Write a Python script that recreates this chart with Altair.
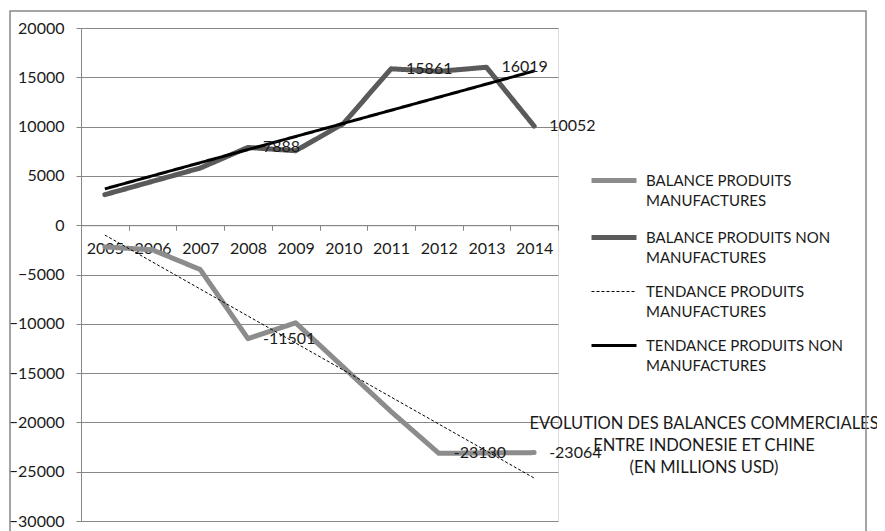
import altair as alt
import pandas as pd

# ---- data ----
years = ["2005", "2006", "2007", "2008", "2009", "2010", "2011", "2012", "2013", "2014"]
balance_manuf = [-2200, -2500, -4500, -11501, -9900, -14400, -18900, -23130, -23100, -23064]
balance_non_manuf = [3100, 4450, 5800, 7888, 7550, 10300, 15861, 15600, 16019, 10052]
labels_manuf = ["", "", "", "-11501", "", "", "", "-23130", "", "-23064"]
labels_non_manuf = ["", "", "", "7888", "", "", "15861", "", "16019", "10052"]

S1 = "BALANCE PRODUITS MANUFACTURES"
S2 = "BALANCE PRODUITS NON MANUFACTURES"
T1 = "TENDANCE PRODUITS MANUFACTURES"
T2 = "TENDANCE PRODUITS NON MANUFACTURES"
series_order = [S1, S2, T1, T2]
series_colors = ["#8c8c8c", "#5a5a5a", "#000000", "#000000"]
series_dashes = [[1, 0], [1, 0], [3, 2], [1, 0]]
y_ticks = [-30000, -25000, -20000, -15000, -10000, -5000, 0, 5000, 10000, 15000, 20000]
title_text = "EVOLUTION DES BALANCES COMMERCIALES\nENTRE INDONESIE ET CHINE\n(EN MILLIONS USD)"

FONT = "Lato"

df = pd.DataFrame({
    "year": years * 2,
    "yr": [int(y) for y in years] * 2,
    "value": balance_manuf + balance_non_manuf,
    "series": [S1] * len(years) + [S2] * len(years),
    "label": labels_manuf + labels_non_manuf,
    "w": [5] * (2 * len(years)),
})

width_expr = (
    f"datum.value == '{T1}' ? 1 : datum.value == '{T2}' ? 3 : 5"
)

legend = alt.Legend(
    title=None,
    orient="none",
    legendX=525.5,
    legendY=145,
    symbolType="stroke",
    symbolSize=2025,
    symbolStrokeWidth={"expr": width_expr},
    labelExpr="[slice(datum.label, 0, -13), 'MANUFACTURES']",
    labelFont=FONT,
    labelFontSize=15,
    labelColor="#1a1a1a",
    labelBaseline="middle",
    labelLimit=400,
    labelOffset=24.5,
    rowPadding=18,
    padding=0,
)

x_enc = alt.X(
    "year:O",
    title=None,
    scale=alt.Scale(paddingInner=0, paddingOuter=0),
    axis=alt.Axis(
        labelAngle=0,
        offset=-295.8,
        tickBand="extent",
        tickSize=5,
        tickColor="#878787",
        domainColor="#878787",
        labelPadding=10,
        labelFont=FONT,
        labelFontSize=16,
        labelColor="#1a1a1a",
        grid=False,
    ),
)
y_enc = alt.Y(
    "value:Q",
    title=None,
    scale=alt.Scale(domain=[-30000, 20000], nice=False, zero=False),
    axis=alt.Axis(
        values=y_ticks,
        format="d",
        tickSize=5,
        tickColor="#878787",
        domainColor="#878787",
        gridColor="#878787",
        labelPadding=12,
        labelFont=FONT,
        labelFontSize=16,
        labelColor="#1a1a1a",
    ),
)
color_enc = alt.Color(
    "series:N",
    scale=alt.Scale(domain=series_order, range=series_colors),
    legend=legend,
)
dash_enc = alt.StrokeDash(
    "series:N",
    scale=alt.Scale(domain=series_order, range=series_dashes),
    legend=legend,
)
width_enc = alt.StrokeWidth("w:Q", scale=None, legend=None)

lines = alt.Chart(df).mark_line(strokeCap="round", strokeJoin="round").encode(
    x=x_enc, y=y_enc, color=color_enc, strokeDash=dash_enc, strokeWidth=width_enc
)

trend = (
    alt.Chart(df)
    .transform_regression("yr", "value", groupby=["series"])
    .transform_calculate(w=f"datum.series == '{S1}' ? 1 : 3")
    .transform_calculate(
        year="toString(datum.yr)",
        series=f"datum.series == '{S1}' ? '{T1}' : '{T2}'",
    )
    .mark_line(strokeCap="butt")
    .encode(x=x_enc, y=y_enc, color=color_enc, strokeDash=dash_enc, strokeWidth=width_enc)
)

labels = (
    alt.Chart(df)
    .transform_filter("datum.label != ''")
    .mark_text(align="left", baseline="middle", dx=15, font=FONT, fontSize=16, color="#1a1a1a")
    .encode(x=x_enc, y=y_enc, text="label:N")
)

dummy = pd.DataFrame({"a": [0]})
title = alt.Chart(dummy).mark_text(
    lineBreak="\n", align="center", baseline="middle", font=FONT, fontSize=16.5,
    lineHeight=22, color="#1a1a1a",
).encode(x=alt.value(623), y=alt.value(396), text=alt.value(title_text))

border = alt.Chart(dummy).mark_rect(
    fillOpacity=0, stroke="#868686", strokeWidth=1.5
).encode(x=alt.value(-71), x2=alt.value(785), y=alt.value(-17), y2=alt.value(600))

chart = (
    alt.layer(lines, trend, labels, title, border)
    .properties(
        width=477,
        height=493,
        autosize=alt.AutoSizeParams(type="none"),
        padding={"left": 73, "top": 20, "right": 319, "bottom": 10},
        background="white",
    )
    .configure_view(fill="#e4e4e4", strokeWidth=0)
    .configure(style={"guide-label": {"lineHeight": 20}})
)

chart.save("out.html", embed_options={"renderer": "svg", "actions": False})
